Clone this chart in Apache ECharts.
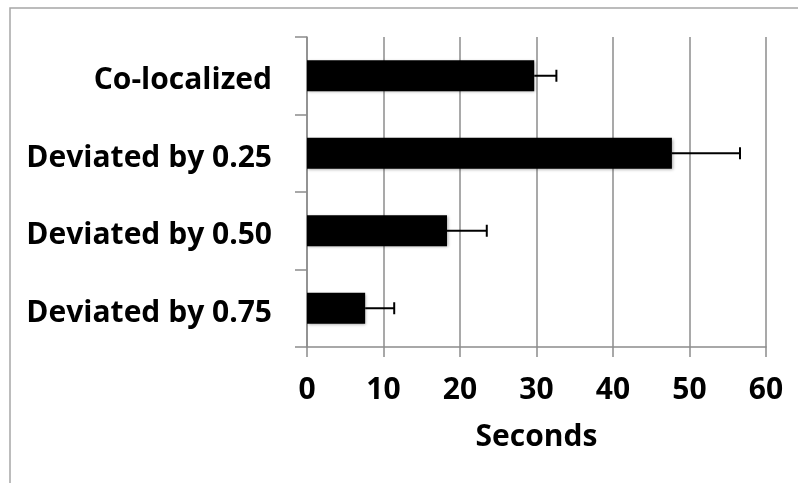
<!DOCTYPE html>
<html><head><meta charset="utf-8">
<script src="https://cdn.jsdelivr.net/npm/echarts@6/dist/echarts.min.js"></script>
<style>html,body{margin:0;padding:0;background:#fff}#c{width:798px;height:483px}</style>
</head><body><div id="c"></div>
<script>
const categories = ['Co-localized', 'Deviated by 0.25', 'Deviated by 0.50', 'Deviated by 0.75'];
const values = [29.7, 47.7, 18.3, 7.6];
const errors = [2.9, 8.9, 5.2, 3.8];
const xTicks = [0, 10, 20, 30, 40, 50, 60];

const chart = echarts.init(document.getElementById('c'));
const font = '"Open Sans", Lato, sans-serif';
chart.setOption({
  animation: false,
  backgroundColor: '#fff',
  graphic: [{
    type: 'rect', silent: true, z: -1,
    shape: { x: 10, y: 8, width: 1000, height: 1000 },
    style: { fill: 'none', stroke: '#a6a6a6', lineWidth: 1.5 }
  }],
  grid: { left: 307, right: 32, top: 37, bottom: 136 },
  xAxis: {
    type: 'value', min: xTicks[0], max: xTicks[xTicks.length - 1], interval: 10,
    name: 'Seconds', nameLocation: 'middle', nameGap: 75,
    nameTextStyle: { fontFamily: font, fontWeight: 'bold', fontSize: 30, color: '#000' },
    axisLine: { show: true, lineStyle: { color: '#8c8c8c', width: 1.5 } },
    axisTick: { show: true, length: 10, lineStyle: { color: '#8c8c8c', width: 1.5 } },
    axisLabel: { margin: 28, fontFamily: font, fontWeight: 'bold', fontSize: 30, color: '#000' },
    splitLine: { show: true, lineStyle: { color: '#8c8c8c', width: 1.5 } }
  },
  yAxis: {
    type: 'category', data: categories, inverse: true,
    axisLine: { show: true, lineStyle: { color: '#8c8c8c', width: 1.5 } },
    axisTick: { show: true, length: 12, lineStyle: { color: '#8c8c8c', width: 1.5 } },
    axisLabel: {
      margin: 35, formatter: v => '{a|' + v + '}',
      rich: { a: { fontFamily: font, fontWeight: 'bold', fontSize: 30, color: '#000', padding: [10, 0, 0, 0] } }
    },
    splitLine: { show: false }
  },
  series: [{
    type: 'bar', data: values, barWidth: '40%',
    itemStyle: { color: '#000', shadowBlur: 3, shadowColor: 'rgba(0,0,0,0.35)', shadowOffsetX: 1, shadowOffsetY: 1 },
    z: 2
  }, {
    type: 'custom', z: 3,
    data: values.map((v, i) => [i, v, v + errors[i]]),
    encode: { x: [1, 2], y: 0 },
    renderItem: function (params, api) {
      const y = api.value(0);
      const p0 = api.coord([api.value(1), y]);
      const p1 = api.coord([api.value(2), y]);
      const h = 6;
      return {
        type: 'group',
        children: [
          { type: 'line', shape: { x1: p0[0], y1: p0[1], x2: p1[0], y2: p1[1] }, style: { stroke: '#000', lineWidth: 2 } },
          { type: 'line', shape: { x1: p1[0], y1: p1[1] - h, x2: p1[0], y2: p1[1] + h }, style: { stroke: '#000', lineWidth: 2 } }
        ]
      };
    }
  }]
});
</script>
</body></html>
